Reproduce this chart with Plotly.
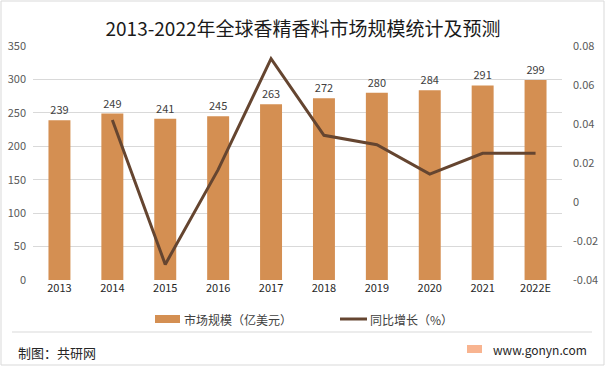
import plotly.graph_objects as go

years = ["2013", "2014", "2015", "2016", "2017", "2018", "2019", "2020", "2021", "2022E"]
market = [239, 249, 241, 245, 263, 272, 280, 284, 291, 299]
growth_years = ["2014", "2015", "2016", "2017", "2018", "2019", "2020", "2021", "2022E"]
growth = [0.042, -0.032, 0.0166, 0.0735, 0.0342, 0.0294, 0.0143, 0.025, 0.025]
left_ticks = [0, 50, 100, 150, 200, 250, 300, 350]
right_ticks = [-0.04, -0.02, 0, 0.02, 0.04, 0.06, 0.08]
right_labels = ["-0.04", "-0.02", "0", "0.02", "0.04", "0.06", "0.08"]
bar_name = "市场规模（亿美元）"
line_name = "同比增长（%）"

FONT = "Noto Sans CJK SC"
W, H = 606, 377
L, R, T, B = 33, 44, 46, 97
BAR_COLOR = "#D48F52"
LINE_COLOR = "#654530"


def px_x(x):
    return (x - L) / (W - L - R)


def px_y(y):
    return (H - B - y) / (H - T - B)


fig = go.Figure()
fig.add_trace(go.Bar(
    x=years, y=market, name=bar_name,
    marker=dict(color=BAR_COLOR, line=dict(width=0)),
    text=[str(v) for v in market], textposition="outside",
    textfont=dict(size=11, color="#404040", family=FONT),
    cliponaxis=False,
))
fig.add_trace(go.Scatter(
    x=growth_years, y=growth, name=line_name, yaxis="y2",
    mode="lines", line=dict(color=LINE_COLOR, width=3),
))

fig.update_layout(
    width=W, height=H,
    margin=dict(l=L, r=R, t=T, b=B, autoexpand=False),
    paper_bgcolor="white", plot_bgcolor="white",
    font=dict(family=FONT, size=11, color="#595959"),
    title=dict(text="2013-2022年全球香精香料市场规模统计及预测",
               x=0.5, xanchor="center", xref="container",
               y=1 - 29 / H, yanchor="middle", yref="container",
               font=dict(size=19, color="#1a1a1a", family=FONT)),
    bargap=0.585,
    showlegend=False,
    xaxis=dict(type="category", showgrid=False, showline=False, ticks="", automargin=False,
               tickfont=dict(size=11, color="#262626")),
    yaxis=dict(range=[0, 350], tickvals=left_ticks, showgrid=True, gridcolor="#D9D9D9",
               gridwidth=1, zeroline=False, showline=False, ticklabelstandoff=6, automargin=False,
               tickfont=dict(size=11, color="#595959")),
    yaxis2=dict(range=[-0.04, 0.08], tickvals=right_ticks, ticktext=right_labels,
                overlaying="y", side="right", showgrid=False, zeroline=False, showline=False,
                ticklabelstandoff=10, automargin=False, tickfont=dict(size=11, color="#595959")),
    shapes=[
        # outer border
        dict(type="rect", xref="paper", yref="paper",
             x0=px_x(1), x1=px_x(604), y0=px_y(365), y1=px_y(1),
             line=dict(color="#D9D9D9", width=1), fillcolor="rgba(0,0,0,0)", layer="below"),
        # separator
        dict(type="line", xref="paper", yref="paper",
             x0=px_x(12), x1=px_x(592), y0=px_y(332), y1=px_y(332),
             line=dict(color="#D9D9D9", width=1)),
        # legend swatches
        dict(type="rect", xref="paper", yref="paper",
             x0=px_x(155), x1=px_x(180), y0=px_y(323), y1=px_y(315),
             line=dict(width=0), fillcolor=BAR_COLOR),
        dict(type="line", xref="paper", yref="paper",
             x0=px_x(340), x1=px_x(367), y0=px_y(319), y1=px_y(319),
             line=dict(width=3, color=LINE_COLOR)),
        # logo
        dict(type="rect", xref="paper", yref="paper",
             x0=px_x(467), x1=px_x(482), y0=px_y(353), y1=px_y(345),
             line=dict(width=0), fillcolor="#F8B490"),
    ],
    annotations=[
        dict(text=bar_name, xref="paper", yref="paper",
             x=px_x(182), xanchor="left", y=px_y(319), yanchor="middle", showarrow=False,
             font=dict(size=12, color="#404040", family=FONT)),
        dict(text=line_name, xref="paper", yref="paper",
             x=px_x(368), xanchor="left", y=px_y(319), yanchor="middle", showarrow=False,
             font=dict(size=12, color="#404040", family=FONT)),
        dict(text="制图：共研网", xref="paper", yref="paper",
             x=px_x(16), xanchor="left", y=px_y(352), yanchor="middle", showarrow=False,
             font=dict(size=13, color="#262626", family=FONT)),
        dict(text="www.gonyn.com", xref="paper", yref="paper",
             x=px_x(491), xanchor="left", y=px_y(349), yanchor="middle", showarrow=False,
             font=dict(size=12, color="#262626", family=FONT)),
    ],
)

fig.write_html("out.html", config={"displayModeBar": False},
               post_script="document.body.style.margin='0';document.body.style.overflow='hidden';")
